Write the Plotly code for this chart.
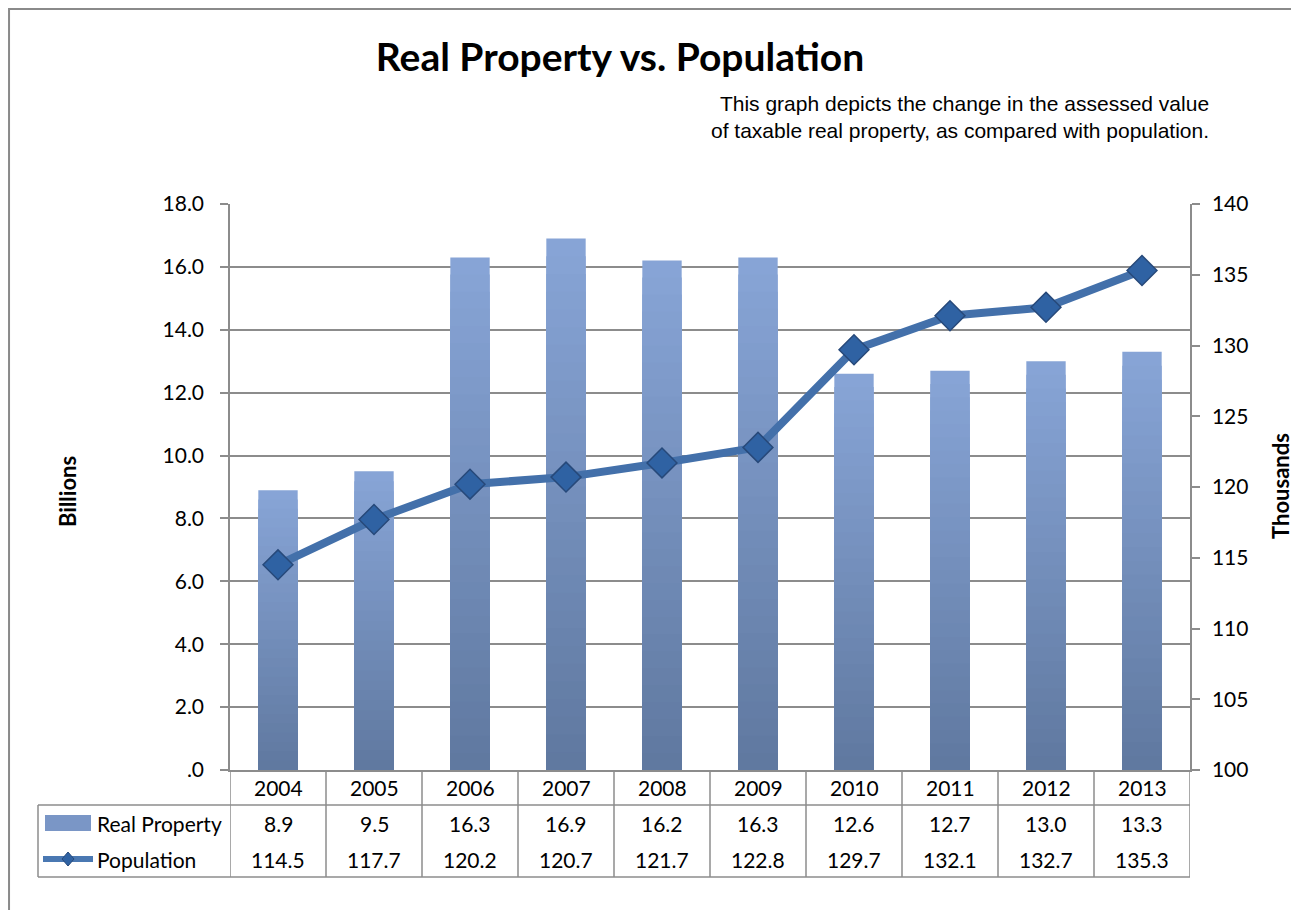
"""
Real Property vs. Population — Excel 风格柱线组合图 + 底部数据表
"""
import plotly.graph_objects as go

# ── 数据 ────────────────────────────────────────────────
years = ["2004", "2005", "2006", "2007", "2008", "2009", "2010", "2011", "2012", "2013"]
real_property = [8.9, 9.5, 16.3, 16.9, 16.2, 16.3, 12.6, 12.7, 13.0, 13.3]   # Billions
population = [114.5, 117.7, 120.2, 120.7, 121.7, 122.8, 129.7, 132.1, 132.7, 135.3]  # Thousands

left_ticks = [0, 2, 4, 6, 8, 10, 12, 14, 16, 18]
left_tick_text = [".0", "2.0", "4.0", "6.0", "8.0", "10.0", "12.0", "14.0", "16.0", "18.0"]
right_ticks = [100, 105, 110, 115, 120, 125, 130, 135, 140]

series_names = ["Real Property", "Population"]

# 页面 body 有 8px 外边距，图尺寸和坐标都扣掉
OFF = 8
W, H = 1299 - OFF, 910 - OFF
GRID = "#8c8c8c"
FONT = "Lato, Carlito, sans-serif"


def px(x):
    return (x - OFF) / W


def py(y):
    return 1 - (y - OFF) / H


def blend(c1, c2, t):
    a = [int(c1[i:i + 2], 16) for i in (1, 3, 5)]
    b = [int(c2[i:i + 2], 16) for i in (1, 3, 5)]
    return "#" + "".join(f"{round(a[k] + (b[k] - a[k]) * t):02x}" for k in range(3))


TOP_C, BOT_C = "#87a4d6", "#6079a0"
xs = list(range(len(years)))

fig = go.Figure()

# 柱子渐变：叠加逐级缩短、逐渐变深的柱
steps = 30
for s in range(steps):
    f = 1 - s / steps
    fig.add_trace(
        go.Bar(
            x=xs,
            y=[v * f for v in real_property],
            width=0.41,
            marker=dict(color=blend(TOP_C, BOT_C, s / (steps - 1)), line=dict(width=0)),
            showlegend=False,
            hoverinfo="skip" if s else "y",
            name=series_names[0],
        )
    )

# 人口折线（右轴）
fig.add_trace(
    go.Scatter(
        x=xs,
        y=population,
        yaxis="y2",
        mode="lines+markers",
        name=series_names[1],
        line=dict(color="#4370aa", width=8),
        marker=dict(symbol="diamond", size=23, color="#2f62a3",
                    line=dict(color="#27497a", width=1.5)),
        showlegend=False,
    )
)

# ── 数据表线条 ──────────────────────────────────────────
shapes = []
line_style = dict(color=GRID, width=1.5)
for i in range(len(years) + 1):
    shapes.append(dict(type="line", xref="x", yref="paper",
                       x0=i - 0.5, x1=i - 0.5, y0=py(877), y1=py(770), line=line_style))
shapes.append(dict(type="line", xref="paper", yref="paper",
                   x0=px(38), x1=px(1190), y0=py(805), y1=py(805), line=line_style))
shapes.append(dict(type="line", xref="paper", yref="paper",
                   x0=px(38), x1=px(1190), y0=py(877), y1=py(877), line=line_style))
shapes.append(dict(type="line", xref="paper", yref="paper",
                   x0=px(38), x1=px(38), y0=py(877), y1=py(805), line=line_style))
# 外框
shapes.append(dict(type="rect", xref="paper", yref="paper",
                   x0=0.0008, x1=px(1297), y0=-0.05, y1=py(9),
                   line=dict(color="#8a8a8a", width=2), layer="below"))
# 图例图标
shapes.append(dict(type="rect", xref="paper", yref="paper",
                   x0=px(45), x1=px(91), y0=py(831), y1=py(815),
                   fillcolor="#7a96c6", line=dict(width=0)))
shapes.append(dict(type="line", xref="paper", yref="paper",
                   x0=px(43), x1=px(93), y0=py(859), y1=py(859),
                   line=dict(color="#4a78b2", width=6)))
shapes.append(dict(type="path", xref="paper", yref="paper",
                   path=f"M {px(68)} {py(852)} L {px(74)} {py(859)} L {px(68)} {py(866)} L {px(62)} {py(859)} Z",
                   fillcolor="#2f62a3", line=dict(color="#27497a", width=1)))

# ── 数据表文字 ──────────────────────────────────────────
annotations = []
cell_font = dict(family=FONT, size=21, color="#000")
for i, yr in enumerate(years):
    for val, yy in ((yr, 787), (f"{real_property[i]:.1f}", 823), (f"{population[i]:.1f}", 859)):
        annotations.append(dict(x=i, y=py(yy), xref="x", yref="paper", text=val,
                                xanchor="center", yanchor="middle",
                                showarrow=False, font=cell_font))
for name, yy in zip(series_names, [823, 859]):
    annotations.append(dict(x=px(95), y=py(yy), xref="paper", yref="paper", text=name,
                            xanchor="left", yanchor="middle", showarrow=False, font=cell_font))

# 副标题
annotations.append(dict(
    x=px(1211), y=py(117), xref="paper", yref="paper", xanchor="right", yanchor="middle",
    text="This graph depicts the change in the assessed value<br>"
         "of taxable real property, as compared with population.",
    align="right", showarrow=False,
    font=dict(family="Liberation Sans, Arial, sans-serif", size=21, color="#000"),
))
# 轴标题
annotations.append(dict(x=px(67), y=py(492), xref="paper", yref="paper", text="<b>Billions</b>",
                        xanchor="center", yanchor="middle", textangle=-90, showarrow=False,
                        font=dict(family=FONT, size=22, color="#000")))
annotations.append(dict(x=px(1280), y=py(486), xref="paper", yref="paper", text="<b>Thousands</b>",
                        xanchor="center", yanchor="middle", textangle=-90, showarrow=False,
                        font=dict(family=FONT, size=22, color="#000")))

tick_font = dict(family=FONT, size=21, color="#000")
fig.update_layout(
    width=W, height=H,
    margin=dict(l=0, r=0, t=0, b=0, autoexpand=False),
    paper_bgcolor="white",
    plot_bgcolor="white",
    barmode="overlay",
    showlegend=False,
    title=dict(text="<b>Real Property vs. Population</b>", x=px(620), y=py(57),
               xanchor="center", yanchor="middle",
               font=dict(family=FONT, size=39, color="#000")),
    xaxis=dict(domain=[px(230), px(1190)], range=[-0.5, len(years) - 0.5],
               showticklabels=False, showgrid=False, automargin=False,
               showline=True, linecolor=GRID, linewidth=1.5, ticks="", zeroline=False),
    yaxis=dict(domain=[py(770), py(204)], range=[0, 18], tickvals=left_ticks,
               ticktext=left_tick_text, showgrid=True, gridcolor=GRID, gridwidth=1.5,
               showline=True, linecolor=GRID, linewidth=1.5, automargin=False,
               ticks="outside", ticklen=8, tickcolor=GRID, tickwidth=1.5,
               ticklabelstandoff=12, tickfont=tick_font, zeroline=False),
    yaxis2=dict(overlaying="y", side="right", range=[100, 140], tickvals=right_ticks,
                showgrid=False, showline=True, linecolor=GRID, linewidth=1.5, automargin=False,
                ticks="outside", ticklen=8, tickcolor=GRID, tickwidth=1.5,
                ticklabelstandoff=8, tickfont=tick_font, zeroline=False),
    shapes=shapes,
    annotations=annotations,
)

fig.write_html("out.html")
